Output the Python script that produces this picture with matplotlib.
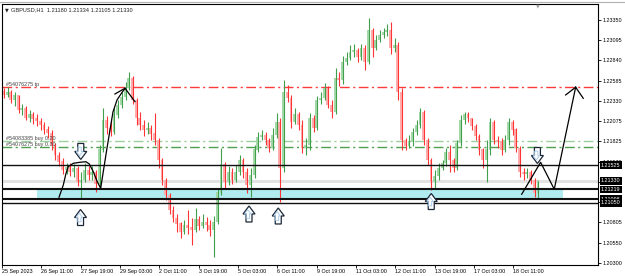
import numpy as np
import matplotlib
matplotlib.use("Agg")
import matplotlib.pyplot as plt
from matplotlib.patches import Rectangle, Polygon
from matplotlib import transforms

plt.rcParams['font.family'] = ['Liberation Sans', 'DejaVu Sans']

chart_title = "GBPUSD,H1  1.21180 1.21334 1.21105 1.21330"
first_open = 1.2245
closes = [1.2241, 1.2244, 1.2234, 1.2240, 1.2222, 1.2224, 1.2212, 1.2216, 1.2211, 1.2208,
          1.2203, 1.2197, 1.2193, 1.2178, 1.2165, 1.2157, 1.2146, 1.2150, 1.2144, 1.2149,
          1.2131, 1.2134, 1.2146, 1.2140, 1.2144, 1.2129, 1.2172, 1.2209, 1.2199, 1.2194,
          1.2216, 1.2228, 1.2238, 1.2249, 1.2262, 1.2234, 1.2212, 1.2203, 1.2197, 1.2199,
          1.2192, 1.2184, 1.2159, 1.2134, 1.2115, 1.2096, 1.2086, 1.2079, 1.2069, 1.2077,
          1.2074, 1.2071, 1.2084, 1.2076, 1.2081, 1.2077, 1.2071, 1.2081, 1.2118, 1.2153,
          1.2131, 1.2144, 1.2134, 1.2144, 1.2159, 1.2144, 1.2128, 1.2140, 1.2172, 1.2188,
          1.2190, 1.2184, 1.2174, 1.2190, 1.2207, 1.2149, 1.2244, 1.2237, 1.2207, 1.2216,
          1.2203, 1.2174, 1.2178, 1.2212, 1.2199, 1.2234, 1.2237, 1.2249, 1.2228, 1.2219,
          1.2262, 1.2260, 1.2282, 1.2287, 1.2295, 1.2297, 1.2289, 1.2300, 1.2282, 1.2322,
          1.2300, 1.2310, 1.2316, 1.2320, 1.2322, 1.2300, 1.2303, 1.2244, 1.2184, 1.2177,
          1.2182, 1.2194, 1.2203, 1.2219, 1.2184, 1.2159, 1.2131, 1.2139, 1.2149, 1.2155,
          1.2169, 1.2159, 1.2149, 1.2180, 1.2209, 1.2217, 1.2212, 1.2202, 1.2189, 1.2172,
          1.2159, 1.2172, 1.2207, 1.2184, 1.2182, 1.2172, 1.2184, 1.2207, 1.2197, 1.2174,
          1.2144, 1.2141, 1.2143, 1.2134, 1.2118, 1.2133]
highs = [1.2249, 1.2251, 1.2247, 1.2244, 1.2241, 1.2229, 1.2227, 1.2222, 1.2219, 1.2217,
         1.2212, 1.2207, 1.2202, 1.2197, 1.2180, 1.2169, 1.2162, 1.2155, 1.2155, 1.2154,
         1.2152, 1.2144, 1.2155, 1.2152, 1.2152, 1.2146, 1.2178, 1.2224, 1.2214, 1.2209,
         1.2224, 1.2234, 1.2244, 1.2257, 1.2270, 1.2265, 1.2237, 1.2219, 1.2209, 1.2207,
         1.2203, 1.2218, 1.2187, 1.2162, 1.2136, 1.2118, 1.2101, 1.2091, 1.2081, 1.2084,
         1.2096, 1.2086, 1.2099, 1.2089, 1.2091, 1.2087, 1.2084, 1.2089, 1.2124, 1.2174,
         1.2157, 1.2152, 1.2149, 1.2153, 1.2165, 1.2162, 1.2149, 1.2149, 1.2178, 1.2194,
         1.2197, 1.2194, 1.2187, 1.2199, 1.2218, 1.2212, 1.2260, 1.2253, 1.2241, 1.2224,
         1.2219, 1.2209, 1.2187, 1.2218, 1.2216, 1.2240, 1.2244, 1.2256, 1.2252, 1.2234,
         1.2275, 1.2270, 1.2290, 1.2295, 1.2303, 1.2305, 1.2300, 1.2305, 1.2303, 1.2338,
         1.2325, 1.2316, 1.2322, 1.2325, 1.2330, 1.2332, 1.2312, 1.2307, 1.2249, 1.2187,
         1.2190, 1.2199, 1.2209, 1.2224, 1.2222, 1.2187, 1.2162, 1.2146, 1.2155, 1.2159,
         1.2174, 1.2178, 1.2162, 1.2184, 1.2216, 1.2219, 1.2219, 1.2212, 1.2204, 1.2192,
         1.2174, 1.2184, 1.2212, 1.2209, 1.2189, 1.2187, 1.2190, 1.2212, 1.2209, 1.2199,
         1.2177, 1.2149, 1.2149, 1.2146, 1.2136, 1.2133]
lows = [1.2237, 1.2238, 1.2231, 1.2227, 1.2218, 1.2216, 1.2209, 1.2207, 1.2204, 1.2202,
        1.2197, 1.2192, 1.2187, 1.2172, 1.2159, 1.2152, 1.2141, 1.2141, 1.2139, 1.2138,
        1.2126, 1.2111, 1.2131, 1.2134, 1.2134, 1.2119, 1.2126, 1.2169, 1.2192, 1.2189,
        1.2192, 1.2212, 1.2224, 1.2234, 1.2247, 1.2229, 1.2203, 1.2197, 1.2189, 1.2192,
        1.2184, 1.2178, 1.2149, 1.2128, 1.2109, 1.2091, 1.2081, 1.2069, 1.2061, 1.2066,
        1.2066, 1.2052, 1.2069, 1.2071, 1.2074, 1.2070, 1.2063, 1.2037, 1.2079, 1.2115,
        1.2124, 1.2128, 1.2129, 1.2131, 1.2140, 1.2136, 1.2118, 1.2112, 1.2136, 1.2169,
        1.2184, 1.2178, 1.2169, 1.2172, 1.2187, 1.2106, 1.2144, 1.2232, 1.2199, 1.2204,
        1.2197, 1.2168, 1.2165, 1.2172, 1.2194, 1.2197, 1.2229, 1.2234, 1.2224, 1.2212,
        1.2217, 1.2252, 1.2255, 1.2278, 1.2285, 1.2289, 1.2282, 1.2285, 1.2272, 1.2280,
        1.2289, 1.2297, 1.2307, 1.2312, 1.2315, 1.2292, 1.2295, 1.2234, 1.2172, 1.2172,
        1.2174, 1.2177, 1.2190, 1.2199, 1.2178, 1.2153, 1.2121, 1.2124, 1.2134, 1.2146,
        1.2152, 1.2144, 1.2144, 1.2146, 1.2177, 1.2204, 1.2207, 1.2197, 1.2184, 1.2165,
        1.2149, 1.2131, 1.2165, 1.2179, 1.2174, 1.2165, 1.2169, 1.2178, 1.2190, 1.2169,
        1.2138, 1.2134, 1.2136, 1.2129, 1.2112, 1.2111]
bar_hours = 3

time_labels = ["25 Sep 2023", "26 Sep 11:00", "27 Sep 19:00", "29 Sep 03:00", "2 Oct 11:00",
               "3 Oct 19:00", "5 Oct 03:00", "6 Oct 11:00", "9 Oct 19:00", "11 Oct 03:00",
               "12 Oct 11:00", "13 Oct 19:00", "17 Oct 03:00", "18 Oct 11:00"]
label_step_hours = 32
price_ticks = [1.23350, 1.23095, 1.22840, 1.22585, 1.22330, 1.22075, 1.21825,
               1.21570, 1.21315, 1.21060, 1.20805, 1.20550, 1.20300]
# these scale labels sit under the black price boxes in the terminal
covered_ticks = [1.21315, 1.21060]

# horizontal objects on the chart
level_lines = [1.21525, 1.21219, 1.21098, 1.21050]
current_price = 1.21330
tp_level = 1.22505
buy_levels = [1.21830, 1.21757]
order_labels = ["#54083385 buy 0.20", "#54076275 buy 0.30"]
tp_label = "#54076275 tp"
zone_low, zone_high = 1.21098, 1.21219
zone_start, zone_end = 28.5, 456.5

# hand-drawn sketch (hours, price)
sketch_left_t = [46.4, 49.9, 52.1, 53.9, 58.0, 63.5, 68.3, 71.0, 74.3, 77.5, 80.3, 85.2, 90.3, 93.6, 96.8, 100.1]
sketch_left_p = [1.21121, 1.21276, 1.21423, 1.21506, 1.21548, 1.21561, 1.21568, 1.21540,
                 1.21443, 1.21317, 1.21234, 1.21716, 1.22193, 1.22344, 1.22419, 1.22491]
head_left = [(91.9, 1.22419), (108.2, 1.22323)]
sketch_right_t = [422.9, 438.3, 449.4, 466.8]
sketch_right_p = [1.21159, 1.21561, 1.21222, 1.22504]
head_right = [(458.7, 1.22407), (473.0, 1.22365)]
down_arrows = [(64.1, 1.21697), (435.7, 1.21646)]
up_arrows = [(63.9, 1.20867), (201.0, 1.20911), (224.8, 1.20886), (349.3, 1.21068)]

fig = plt.figure(figsize=(6.25, 2.76), dpi=100)
ax = fig.add_axes([2 / 625, 11 / 276, 596 / 625, 261 / 276])
ax.set_xlim(0, 485)
ax.set_ylim(1.2027, 1.2355)

c = np.array(closes)
o = np.r_[first_open, c[:-1]]
h = np.array(highs)
l = np.array(lows)
t = 1 + bar_hours * np.arange(len(c))

# background objects
ax.axhline(current_price, color='#e2e2e2', lw=2.2, zorder=0.5)
ax.add_patch(Rectangle((zone_start, zone_low), zone_end - zone_start, zone_high - zone_low,
                       facecolor='#b0ecef', edgecolor='none', zorder=0.6))

up = c >= o
for mask, wick_col, body_col in [(up, '#3f9f4a', '#a6d9aa'), (~up, '#ff3535', '#ffadad')]:
    ax.bar(t[mask], np.abs(c - o)[mask] + 0.00003, bottom=np.minimum(o, c)[mask],
           width=2.0, color=body_col, zorder=2)
    ax.vlines(t[mask] + 0.5, l[mask], h[mask], color=wick_col, lw=0.8, zorder=2.1)

ax.axhline(tp_level, color='#ff3a3a', lw=1.0, dashes=(7, 2.5, 1.5, 2.5), zorder=1.5)
for lev, col in zip(buy_levels, ['#9ccf9c', '#4f9f4f']):
    ax.axhline(lev, color=col, lw=1.0, dashes=(7, 2.5, 1.5, 2.5), zorder=1.5)
for lev, lw_ in zip(level_lines, [1.0, 1.5, 1.5, 1.0]):
    ax.axhline(lev, color='#111111', lw=lw_, zorder=3)

ax.text(3, tp_level, tp_label, fontsize=3.9, color='#444444', va='bottom', ha='left')
for lev, txt in zip(buy_levels, order_labels):
    ax.text(3, lev, txt, fontsize=3.9, color='#444444', va='bottom', ha='left')

# sketch
ax.plot(sketch_left_t, sketch_left_p, color='black', lw=0.9, zorder=4)
ax.plot(sketch_right_t, sketch_right_p, color='black', lw=0.9, zorder=4)
for tip, heads in [((sketch_left_t[-1], sketch_left_p[-1]), head_left),
                   ((sketch_right_t[-1], sketch_right_p[-1]), head_right)]:
    for hx, hy in heads:
        ax.plot([tip[0], hx], [tip[1], hy], color='black', lw=0.9, zorder=4)

up_shape = np.array([(0, 8), (6, 0), (3, 0), (3, -8), (-3, -8), (-3, 0), (-6, 0)]) / 100
for pts, sign in [(up_arrows, 1), (down_arrows, -1)]:
    for ax_t, ax_p in pts:
        tr = fig.dpi_scale_trans + transforms.ScaledTranslation(ax_t, ax_p, ax.transData)
        shape = up_shape * np.array([1, sign])
        ax.add_patch(Polygon(shape, closed=True, facecolor='white', edgecolor='#1c2838',
                             lw=0.9, transform=tr, zorder=5))
        ax.add_patch(Polygon(shape * 0.55 + np.array([-0.012, 0]), closed=True, facecolor='none',
                             edgecolor='#9fc8ec', lw=0.6, transform=tr, zorder=5))

# axes styling
for sp in ax.spines.values():
    sp.set_color('black')
    sp.set_linewidth(0.8)
ax.set_xticks(np.arange(len(time_labels)) * label_step_hours)
ax.set_xticklabels(time_labels, ha='left', fontsize=3.9)
shift = transforms.ScaledTranslation(1.5 / 100, 0, fig.dpi_scale_trans)
for lbl in ax.get_xticklabels():
    lbl.set_transform(lbl.get_transform() + shift)
ax.tick_params(axis='x', length=2, width=0.6, pad=1.0)
ax.yaxis.tick_right()
ax.set_yticks(price_ticks)
ax.set_yticklabels(["" if v in covered_ticks else f"{v:.5f}" for v in price_ticks], fontsize=3.9)
ax.tick_params(axis='y', length=2, width=0.6, pad=1.5)

for v in level_lines + [current_price]:
    ax.text(1 + 3 / 596, v, f"{v:.5f}", transform=ax.get_yaxis_transform(), fontsize=3.9,
            color='white', va='center', ha='left', clip_on=False, zorder=6,
            bbox=dict(boxstyle='square,pad=0.25', facecolor='black', edgecolor='none'))

fig.text(5 / 625, 1 - 10 / 276, "\u25bc", fontsize=3.5, color='#222222', va='center',
         family='DejaVu Sans')
fig.text(11 / 625, 1 - 10 / 276, chart_title, fontsize=4.1, color='#222222', va='center')
fig.text(538 / 625, 1 - 6 / 276, "\u25bc", fontsize=3.5, color='#a0a0a0', va='center',
         ha='center', family='DejaVu Sans')
fig.add_artist(plt.Line2D([0, 1], [1 - 1.5 / 276] * 2, color='#b0b0b0', lw=0.8))

fig.savefig("out.png", dpi=100)
